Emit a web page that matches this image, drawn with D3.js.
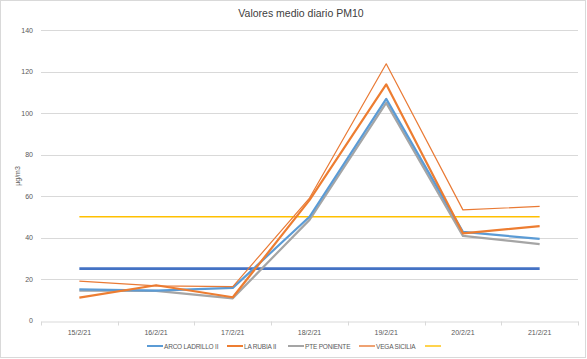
<!DOCTYPE html>
<html><head><meta charset="utf-8">
<script src="https://cdn.jsdelivr.net/npm/d3@7"></script>
<style>body{margin:0;background:#fff;} svg{display:block;}</style>
</head><body>
<svg id="c" width="587" height="359"></svg>
<script>
const categories = ["15/2/21","16/2/21","17/2/21","18/2/21","19/2/21","20/2/21","21/2/21"];
const arcoLadrillo = [15.0, 14.4, 15.7, 50.0, 106.8, 42.7, 39.3];
const laRubia = [11.0, 17.0, 11.2, 58.0, 113.8, 42.0, 45.5];
const ptePoniente = [14.4, 14.3, 10.7, 48.5, 104.9, 40.8, 36.8];
const vegaSicilia = [19.0, 16.7, 16.3, 59.0, 123.7, 53.3, 55.0];
const limitDaily = [50, 50, 50, 50, 50, 50, 50];
const limitAnnual = [25, 25, 25, 25, 25, 25, 25];
const yTicks = [0, 20, 40, 60, 80, 100, 120, 140];
const seriesNames = ["ARCO LADRILLO II", "LA RUBIA II", "PTE PONIENTE", "VEGA SICILIA", ""];

(function(){
const svg = d3.select("#c");
const W = 587, H = 359;
svg.append("rect").attr("x",0.5).attr("y",0.5).attr("width",W-2).attr("height",H-2)
  .attr("fill","#fff").attr("stroke","#d9d9d9");

const pLeft = 41, pRight = 578, pTop = 30, pBottom = 320.5;
const x = d3.scaleBand().domain(categories).range([pLeft, pRight]);
const y = d3.scaleLinear().domain([0, 140]).range([pBottom, pTop]);
const font = "'Liberation Sans', Arial, sans-serif";

svg.append("g").selectAll("line").data(yTicks.filter(d=>d>0)).join("line")
  .attr("x1", pLeft).attr("x2", pRight)
  .attr("y1", d=>Math.round(y(d))+0.5).attr("y2", d=>Math.round(y(d))+0.5)
  .attr("stroke","#d9d9d9").attr("stroke-width",1);

const ya = svg.append("g").attr("transform",`translate(${pLeft},0)`)
  .call(d3.axisLeft(y).tickValues(yTicks).tickSize(0).tickPadding(8));
ya.select(".domain").remove();
ya.selectAll("text").attr("font-family",font).attr("font-size",7).attr("fill","#595959");

const xa = svg.append("g").attr("transform",`translate(0,${Math.round(pBottom)+0.5})`)
  .call(d3.axisBottom(x).tickSize(0).tickPadding(9));
xa.select(".domain").attr("stroke","#d9d9d9");
xa.selectAll("text").attr("font-family",font).attr("font-size",7).attr("fill","#595959");
svg.append("g").selectAll("line").data(categories.concat(["end"])).join("line")
  .attr("x1",(d,i)=>Math.round(pLeft + i*x.step())+0.5)
  .attr("x2",(d,i)=>Math.round(pLeft + i*x.step())+0.5)
  .attr("y1",Math.round(pBottom)+0.5).attr("y2",Math.round(pBottom)+4.5)
  .attr("stroke","#d9d9d9");

const cx = d => x(d) + x.bandwidth()/2;
const line = d3.line().x((d,i)=>cx(categories[i])).y(d=>y(d));

const series = [
  {v: limitAnnual, c:"#4472C4", w:2.6},
  {v: limitDaily, c:"#FFC000", w:1.4},
  {v: ptePoniente, c:"#A5A5A5", w:2.2},
  {v: arcoLadrillo, c:"#5B9BD5", w:2.2},
  {v: laRubia, c:"#ED7D31", w:2.2},
  {v: vegaSicilia, c:"#E97A35", w:1.2},
];
svg.append("g").selectAll("path").data(series).join("path")
  .attr("d", d=>line(d.v)).attr("fill","none")
  .attr("stroke", d=>d.c).attr("stroke-width", d=>d.w).attr("stroke-linejoin","round");

svg.append("text").attr("x",301).attr("y",17).attr("text-anchor","middle")
  .attr("font-family",font).attr("font-size",10.5).attr("fill","#404040")
  .text("Valores medio diario PM10");

svg.append("text").attr("transform","translate(20,176) rotate(-90)").attr("text-anchor","middle")
  .attr("font-family",font).attr("font-size",7).attr("fill","#595959").text("µg/m3");

const legend = [
  {n:seriesNames[0], c:"#5B9BD5", x:147, w:2},
  {n:seriesNames[1], c:"#ED7D31", x:227, w:2},
  {n:seriesNames[2], c:"#A5A5A5", x:288, w:2},
  {n:seriesNames[3], c:"#E97A35", x:359, w:1.4},
  {n:seriesNames[4], c:"#FFC000", x:425, w:1.4},
];
const lg = svg.append("g").selectAll("g").data(legend).join("g")
  .attr("transform", d=>`translate(${d.x},346)`);
lg.append("line").attr("x1",0).attr("x2",16).attr("y1",0).attr("y2",0)
  .attr("stroke",d=>d.c).attr("stroke-width",d=>d.w);
lg.append("text").attr("x",17).attr("y",2.5).attr("font-family",font).attr("font-size",6.5)
  .attr("letter-spacing",-0.2).attr("fill","#595959").text(d=>d.n);
})();
</script>
</body></html>
